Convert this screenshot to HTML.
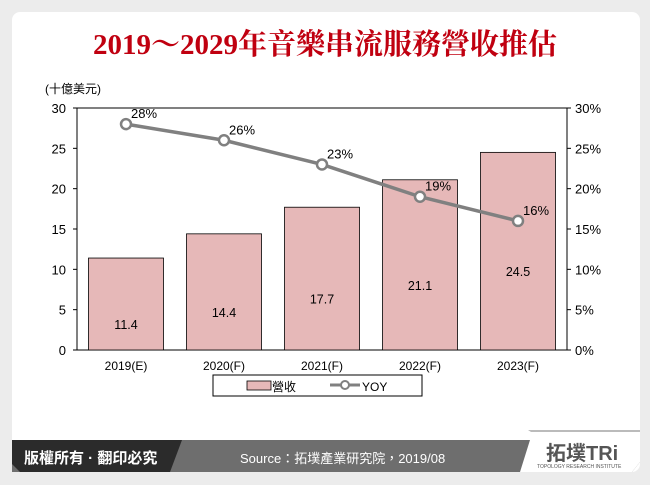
<!DOCTYPE html>
<html><head><meta charset="utf-8"><style>
body{margin:0;width:650px;height:485px;background:#ececec;font-family:"Liberation Sans","Noto Sans CJK TC",sans-serif;overflow:hidden}
#card{position:absolute;left:12px;top:12px;width:628px;height:460px;background:#fff;border-radius:8px;overflow:hidden}
#title{position:absolute;left:0;top:22px;width:650px;text-align:center;font-family:"Liberation Serif","Noto Serif CJK SC",serif;font-weight:bold;font-size:29px;color:#c00010}
</style></head><body>
<div id="card"></div>
<div id="title">2019～2029年音樂串流服務營收推估</div>
<svg width="650" height="485" style="position:absolute;left:0;top:0" id="chart">
<g id="footer">
<polygon points="12,440 640,440 640,462 632,472 12,472" fill="#6e6e6e"/>
<polygon points="12,440 182,440 170,472 20,472 12,464" fill="#2b2b2b"/>
<polygon points="530,440 640,440 640,462 632,472 520,472" fill="#fff"/>
<polygon points="528,430 640,430 640,432 531,432" fill="#bbb"/>
<text x="24" y="463" font-size="15" font-weight="bold" fill="#fff">版權所有 · 翻印必究</text>
<text x="240" y="463" font-size="13" fill="#fff">Source：拓墣產業研究院，2019/08</text>
<text x="546" y="460" font-size="20" font-weight="bold" fill="#555">拓墣TRi</text>
<text x="537" y="468" font-size="5" fill="#555">TOPOLOGY RESEARCH INSTITUTE</text>
</g>
<text x="45" y="93" font-size="12" fill="#000">(十億美元)</text>
<g id="plot"></g>
<g id="legend">
<rect x="213" y="375" width="209" height="21" fill="#fff" stroke="#000"/>
<rect x="247" y="381" width="24" height="9" fill="#e6b8b8" stroke="#000" stroke-width="0.8"/>
<text x="272" y="391" font-size="12">營收</text>
<line x1="330" y1="385" x2="360" y2="385" stroke="#808080" stroke-width="3"/>
<circle cx="345" cy="385" r="4" fill="#fff" stroke="#808080" stroke-width="2"/>
<text x="362" y="391" font-size="12">YOY</text>
</g>
</svg>
<script>
const categories=["2019(E)","2020(F)","2021(F)","2022(F)","2023(F)"];
const revenue=[11.4,14.4,17.7,21.1,24.5];
const yoy=[28,26,23,19,16];
const leftTicks=[0,5,10,15,20,25,30];
const rightTicks=[0,5,10,15,20,25,30];
const NS="http://www.w3.org/2000/svg";
const g=document.getElementById('plot');
const L=77,R=567,T=108,B=350;
const y=v=>B-(v/30)*(B-T);
const yr=v=>B-(v/30)*(B-T);
const step=(R-L)/categories.length;
const cx=i=>L+step*(i+0.5);
function mk(t,a,txt){const e=document.createElementNS(NS,t);for(const k in a)e.setAttribute(k,a[k]);if(txt!=null)e.textContent=txt;g.appendChild(e);return e;}
let e=mk('rect',{x:L,y:T,width:R-L,height:B-T,fill:'none',stroke:'#000'});


leftTicks.forEach(v=>{let t=mk('text',{x:L-11,y:y(v)+5,'text-anchor':'end','font-size':13},v);


mk('line',{x1:L-4,x2:L,y1:y(v),y2:y(v),stroke:'#000'});});
rightTicks.forEach(v=>{let t=mk('text',{x:R+8,y:yr(v)+5,'font-size':13},v+'%');


mk('line',{x1:R,x2:R+4,y1:yr(v),y2:yr(v),stroke:'#000'});});
categories.forEach((c,i)=>{let t=mk('text',{x:cx(i),y:B+20,'text-anchor':'middle','font-size':12},c);

});
revenue.forEach((v,i)=>{let b=mk('rect',{x:cx(i)-37.5,y:y(v),width:75,height:B-y(v),fill:'#e6b8b8',stroke:'#000','stroke-width':0.8});


let t=mk('text',{x:cx(i),y:(y(v)+B)/2+25,'text-anchor':'middle','font-size':12.5},v.toFixed(1));

});
let p=mk('polyline',{points:yoy.map((v,i)=>cx(i)+','+yr(v)).join(' '),fill:'none',stroke:'#808080','stroke-width':3.5});


yoy.forEach((v,i)=>{let c=mk('circle',{cx:cx(i),cy:yr(v),r:5,fill:'#fff',stroke:'#808080','stroke-width':2.5});


let t=mk('text',{x:cx(i)+18,y:yr(v)-6,'text-anchor':'middle','font-size':13},v+'%');

});
</script>
</body></html>
